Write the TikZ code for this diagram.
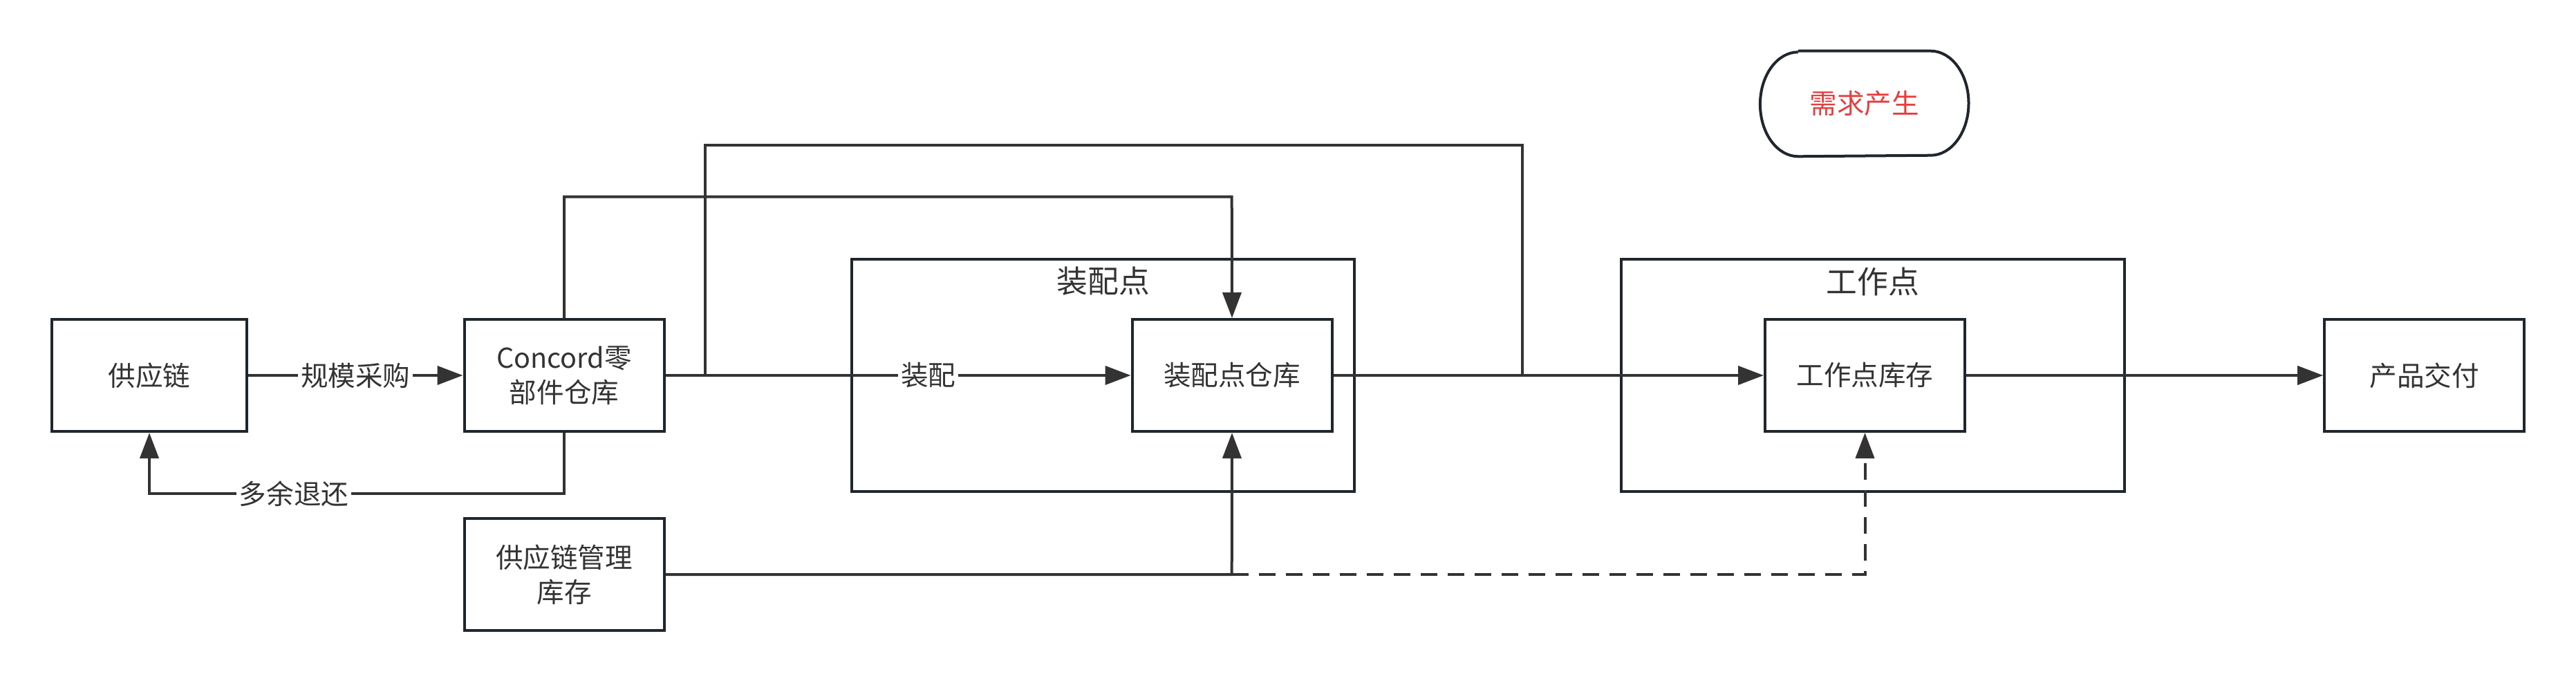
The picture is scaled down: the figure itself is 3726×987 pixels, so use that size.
\documentclass[tikz,border=0pt]{standalone}
\usepackage{fontspec}
\setmainfont{Noto Sans CJK SC}
\usetikzlibrary{arrows.meta}
\definecolor{ln}{HTML}{333333}
\definecolor{bx}{HTML}{1F262D}
\definecolor{rd}{HTML}{E53E3E}
\begin{document}
\begin{tikzpicture}[x=0.25pt,y=-0.25pt,
  box/.style={draw=bx,line width=1pt,minimum width=72.25pt,minimum height=40.5pt,inner sep=0pt,align=center,text=ln,font=\fontsize{9.9pt}{12.5pt}\selectfont},
  grp/.style={draw=bx,line width=1pt,inner sep=0pt,fill=none},
  ttl/.style={inner sep=0pt,text=ln,font=\fontsize{11.2pt}{13pt}\selectfont},
  conn/.style={draw=ln,line width=1pt},
  arr/.style={conn,-{Triangle[length=9.25pt,width=6.75pt]}},
  lbl/.style={fill=white,inner sep=1pt,text=ln,font=\fontsize{9.9pt}{12pt}\selectfont}]
\useasboundingbox (0,0) rectangle (3726,987);
% groups
\node[grp,minimum width=181.75pt,minimum height=84.1pt] (asm) at (1595.5,542.8) {};
\node[ttl] (asmt) at (1595.6,407) {装配点};
\node[grp,minimum width=181.9pt,minimum height=84pt] (wk) at (2709.25,542.5) {};
\node[ttl] (wkt) at (2709,407) {工作点};
% boxes
\node[box,minimum width=70.5pt] (sc) at (216,543) {供应链};
\node[box] (cc) at (816,543) {Concord零\\部件仓库};
\node[box] (scm) at (816,831) {供应链管理\\库存};
\node[box] (aw) at (1782,543) {装配点仓库};
\node[box] (wi) at (2697.5,543) {工作点库存};
\node[box] (pd) at (3506.7,543) {产品交付};
% demand
\node[inner sep=0pt,minimum width=75pt,minimum height=37.75pt,text=rd,font=\fontsize{9.9pt}{12pt}\selectfont] (dm) at (2696.7,150) {需求产生};
\draw[draw=bx,line width=1pt] ([xshift=13.75pt]dm.north west) -- ([xshift=-13.75pt]dm.north east)
  arc[start angle=90,end angle=0,x radius=13.75pt,y radius=18.875pt]
  arc[start angle=0,end angle=-90,x radius=13.75pt,y radius=18.875pt]
  -- ([xshift=13.75pt]dm.south west)
  arc[start angle=270,end angle=180,x radius=13.75pt,y radius=18.875pt]
  arc[start angle=180,end angle=90,x radius=13.75pt,y radius=18.875pt];
% junctions
\coordinate (j1) at (1019.6,543);
\coordinate (j2) at (2201.7,543);
\coordinate (j3) at (1781.7,831);
% connectors
\draw[arr] (sc.east) -- node[lbl] (l1) {规模采购} (cc.west);
\draw[arr] (cc.south) -- (816,714) -- (216,714) -- (sc.south);
\node[lbl] (l2) at (425,714) {多余退还};
\draw[arr] (cc.north) -- (816,284.6) -- (1781.7,284.6) -- (aw.north);
\draw[arr] (cc.east) -- node[lbl,pos=0.565] (l3) {装配} (aw.west);
\draw[conn] (j1) -- (1019.6,209.6) -- (2201.7,209.6) -- (j2);
\draw[arr] (aw.east) -- (wi.west);
\draw[arr] (wi.east) -- (pd.west);
\draw[arr] (scm.east) -- (j3) -- (aw.south);
\draw[arr,dash pattern=on 6pt off 3.75pt] (j3) -- (2697.5,831) -- (wi.south);
\end{tikzpicture}
\end{document}
